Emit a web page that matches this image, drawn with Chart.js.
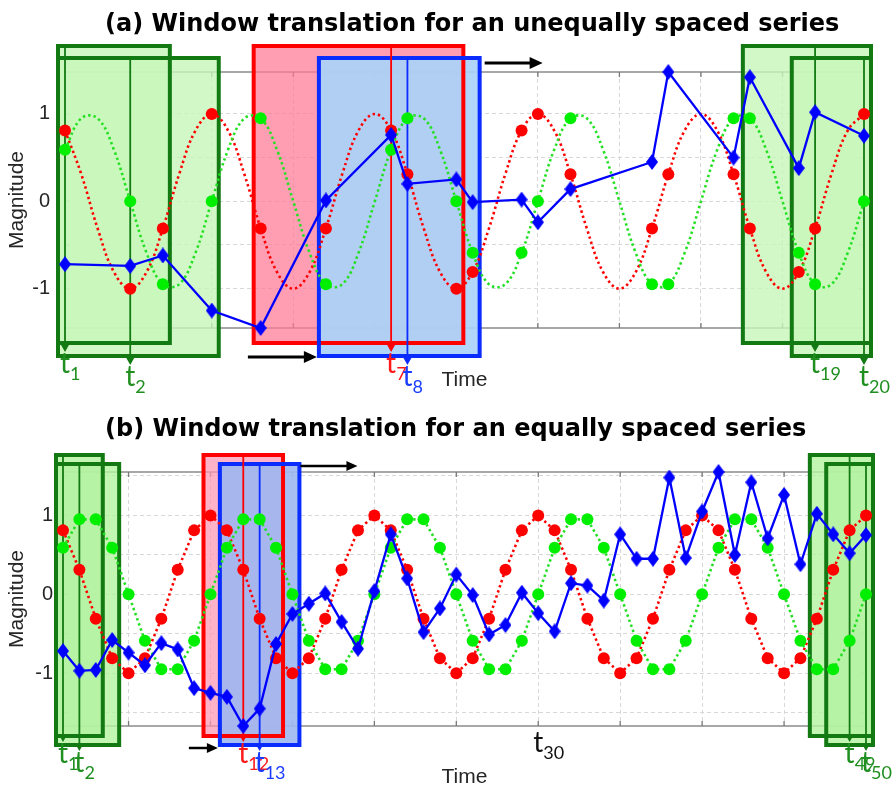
<!DOCTYPE html>
<html>
<head>
<meta charset="utf-8">
<script src="https://cdn.jsdelivr.net/npm/chart.js@4.4.1/dist/chart.umd.min.js"></script>
<style>
  html, body { margin: 0; padding: 0; background: #ffffff; }
  #wrap { position: relative; width: 896px; height: 788px; }
  canvas { position: absolute; left: 0; }
  #cA { top: 0; }
  #cB { top: 400px; }
</style>
</head>
<body>
<div id="wrap">
  <canvas id="cA" width="896" height="400"></canvas>
  <canvas id="cB" width="896" height="388"></canvas>
</div>
<script>
// ---- data -------------------------------------------------------------
// equally spaced sampling instants t1 ... t50
const timesB = [1,2,3,4,5,6,7,8,9,10,11,12,13,14,15,16,17,18,19,20,
                21,22,23,24,25,26,27,28,29,30,31,32,33,34,35,36,37,38,39,40,
                41,42,43,44,45,46,47,48,49,50];
const redB = [0.81,0.31,-0.31,-0.81,-1,-0.81,-0.31,0.31,0.81,1,
              0.81,0.31,-0.31,-0.81,-1,-0.81,-0.31,0.31,0.81,1,
              0.81,0.31,-0.31,-0.81,-1,-0.81,-0.31,0.31,0.81,1,
              0.81,0.31,-0.31,-0.81,-1,-0.81,-0.31,0.31,0.81,1,
              0.81,0.31,-0.31,-0.81,-1,-0.81,-0.31,0.31,0.81,1];
const greenB = [0.59,0.95,0.95,0.59,0,-0.59,-0.95,-0.95,-0.59,0,
                0.59,0.95,0.95,0.59,0,-0.59,-0.95,-0.95,-0.59,0,
                0.59,0.95,0.95,0.59,0,-0.59,-0.95,-0.95,-0.59,0,
                0.59,0.95,0.95,0.59,0,-0.59,-0.95,-0.95,-0.59,0,
                0.59,0.95,0.95,0.59,0,-0.59,-0.95,-0.95,-0.59,0];
const blueB = [-0.72,-0.97,-0.96,-0.58,-0.74,-0.90,-0.62,-0.70,-1.19,-1.25,
               -1.30,-1.67,-1.45,-0.63,-0.25,-0.12,0.01,-0.35,-0.69,0.04,
               0.76,0.20,-0.48,-0.18,0.25,-0.01,-0.51,-0.39,0.02,-0.24,
               -0.47,0.14,0.11,-0.08,0.76,0.45,0.45,1.48,0.46,1.05,
               1.55,0.50,1.42,0.71,1.26,0.38,1.02,0.76,0.52,0.75];
// unequally spaced sampling instants (subset of the time grid)
const timesA = [1,5,7,10,13,17,21,22,25,26,29,30,32,37,38,42,43,46,47,50];

// time-axis grid and magnitude ticks
const xTicks = [5,10,15,20,25,30,35,40,45,50];
const yTicksA = [-1,-0.5,0,0.5,1];
const yTicksB = [-1.5,-1,-0.5,0,0.5,1,1.5];

// sample numbers whose windows are highlighted
const windowsA = [1,2,7,8,19,20];
const windowsB = [1,2,12,13,49,50];
const windowColorsA = ['green','green','red','blue','green','green'];
const windowColorsB = ['green','green','red','blue','green','green'];
const markedSampleB = 30;

// ---- styling ----------------------------------------------------------
const RED = '#ff0000', GREEN = '#00ee00', GREEN_LINE = '#22e022', BLUE = '#0000ff';
const WIN = {
  green: { fill: 'rgba(200,246,185,0.80)', stroke: '#137a13', text: '#1f8f1f' },
  red:   { fill: 'rgba(255,120,150,0.72)', stroke: '#ff0000', text: '#ff1a1a' },
  blue:  { fill: 'rgba(170,210,250,0.92)', stroke: '#0a2cff', text: '#1a3cff' }
};
const WIN_B = {
  green: { fill: 'rgba(180,242,160,0.80)', stroke: '#137a13', text: '#1f8f1f' },
  red:   { fill: 'rgba(255,150,180,0.72)', stroke: '#ff0000', text: '#ff1a1a' },
  blue:  { fill: 'rgba(160,184,242,0.92)', stroke: '#0a2cff', text: '#1a3cff' }
};

function makeDiamond(w, h, color) {
  const c = document.createElement('canvas');
  c.width = w; c.height = h;
  const g = c.getContext('2d');
  g.fillStyle = color;
  g.beginPath();
  g.moveTo(w / 2, 0); g.lineTo(w, h / 2); g.lineTo(w / 2, h); g.lineTo(0, h / 2);
  g.closePath(); g.fill();
  return c;
}
const diamond = makeDiamond(12, 16, BLUE);

function pts(times, values) {
  return times.map(t => ({ x: t, y: values[timesB.indexOf(t)] }));
}

function datasets(times, smooth) {
  return [
    { data: pts(times, blueB), borderColor: BLUE, borderWidth: 2.3, tension: 0,
      pointStyle: diamond, pointRadius: 7, clip: false },
    { data: pts(times, greenB), showLine: false, pointRadius: 6,
      pointBackgroundColor: GREEN, pointBorderWidth: 0, clip: false },
    { data: pts(times, redB), showLine: false, pointRadius: 6,
      pointBackgroundColor: RED, pointBorderWidth: 0, clip: false },
    { data: pts(timesB, greenB), borderColor: GREEN_LINE, borderWidth: 2.6,
      borderDash: [2.4, 3], pointRadius: 0, tension: smooth ? 0.4 : 0, clip: false },
    { data: pts(timesB, redB), borderColor: RED, borderWidth: 2.6,
      borderDash: [2.4, 3], pointRadius: 0, tension: smooth ? 0.4 : 0, clip: false }
  ];
}

// ---- annotation drawing -------------------------------------------------
function arrowRight(ctx, x0, x1, y, lw, hl, hw) {
  ctx.strokeStyle = '#000'; ctx.fillStyle = '#000'; ctx.lineWidth = lw;
  ctx.beginPath(); ctx.moveTo(x0, y); ctx.lineTo(x1 - hl + 1, y); ctx.stroke();
  ctx.beginPath(); ctx.moveTo(x1, y); ctx.lineTo(x1 - hl, y - hw); ctx.lineTo(x1 - hl, y + hw);
  ctx.closePath(); ctx.fill();
}

function subLabel(ctx, xc, baseline, num, color) {
  ctx.save();
  ctx.fillStyle = color;
  ctx.textAlign = 'left'; ctx.textBaseline = 'alphabetic';
  ctx.font = '28px Lato, "Open Sans", sans-serif';
  const tw = ctx.measureText('t').width;
  ctx.fillText('t', xc - tw / 2, baseline);
  ctx.font = '18px Lato, "Open Sans", sans-serif';
  ctx.fillText(String(num), xc + tw / 2, baseline + 7);
  ctx.restore();
}

function overlay(cfg) {
  let geo = [];
  return {
    id: 'overlay',
    beforeDatasetsDraw(chart) {
      const { ctx, chartArea: a, scales: { x, y } } = chart;
      ctx.save();
      // axes box with inward ticks
      ctx.strokeStyle = '#7a7a7a'; ctx.lineWidth = 1.3;
      ctx.strokeRect(a.left, a.top, a.right - a.left, a.bottom - a.top);
      ctx.beginPath();
      xTicks.forEach(v => {
        const px = x.getPixelForValue(v);
        ctx.moveTo(px, a.bottom); ctx.lineTo(px, a.bottom - 5);
        ctx.moveTo(px, a.top); ctx.lineTo(px, a.top + 5);
      });
      cfg.yTicks.forEach(v => {
        const py = y.getPixelForValue(v);
        ctx.moveTo(a.left, py); ctx.lineTo(a.left + 5, py);
        ctx.moveTo(a.right, py); ctx.lineTo(a.right - 5, py);
      });
      ctx.stroke();

      // windows: each one covers its sample and two neighbours on each side
      const n = cfg.times.length;
      geo = cfg.windows.map((s, k) => {
        const lo = cfg.times[Math.max(0, s - 3)], hi = cfg.times[Math.min(n - 1, s + 1)];
        const st = cfg.stagger[k % 2];
        const x0 = x.getPixelForValue(lo) - cfg.pad, x1 = x.getPixelForValue(hi) + cfg.pad;
        const top = a.top + st.top, bottom = a.bottom + st.bottom;
        return { s, xc: x.getPixelForValue(cfg.times[s - 1]), x0, x1, top, bottom,
                 tip: bottom + cfg.tip, c: cfg.palette[cfg.colors[k]] };
      });
      geo.forEach(w => { ctx.fillStyle = w.c.fill; ctx.fillRect(w.x0, w.top, w.x1 - w.x0, w.bottom - w.top); });
      ctx.lineWidth = 4;
      geo.forEach(w => { ctx.strokeStyle = w.c.stroke; ctx.strokeRect(w.x0, w.top, w.x1 - w.x0, w.bottom - w.top); });
      // time markers with arrowheads
      geo.forEach(w => {
        ctx.strokeStyle = w.c.stroke; ctx.fillStyle = w.c.stroke; ctx.lineWidth = 1.8;
        ctx.beginPath(); ctx.moveTo(w.xc, w.top); ctx.lineTo(w.xc, w.tip - 6); ctx.stroke();
        ctx.beginPath(); ctx.moveTo(w.xc, w.tip); ctx.lineTo(w.xc - 4.5, w.tip - 8); ctx.lineTo(w.xc + 4.5, w.tip - 8);
        ctx.closePath(); ctx.fill();
      });
      // translation arrows around the moving window
      const blue = geo[cfg.colors.indexOf('blue')];
      const ar = cfg.arrows;
      arrowRight(ctx, blue.x1 + ar.topGap, blue.x1 + ar.topGap + ar.topLen, blue.top + ar.topDy, ar.lw, ar.hl, ar.hw);
      arrowRight(ctx, blue.x0 - ar.botLen, blue.x0 - 2, blue.bottom + ar.botDy, ar.lw, ar.hl, ar.hw);
      ctx.restore();
    },
    afterDraw(chart) {
      const { ctx, chartArea: a, scales: { x } } = chart;
      ctx.save();
      // title
      ctx.fillStyle = '#000';
      ctx.font = 'bold 24px "DejaVu Sans", sans-serif';
      ctx.textAlign = 'left'; ctx.textBaseline = 'alphabetic';
      ctx.fillText(cfg.title, 105, cfg.titleY);
      // axis titles
      ctx.fillStyle = '#262626';
      ctx.font = '21px "Liberation Sans", Arial, sans-serif';
      ctx.textAlign = 'center'; ctx.textBaseline = 'middle';
      ctx.fillText('Time', (a.left + a.right) / 2, a.bottom + cfg.timeDy);
      ctx.save();
      ctx.translate(17, (a.top + a.bottom) / 2);
      ctx.rotate(-Math.PI / 2);
      ctx.fillText('Magnitude', 0, 0);
      ctx.restore();
      // sample labels below the windows
      geo.forEach(w => subLabel(ctx, w.xc, w.tip + cfg.labelDy, w.s, w.c.text));
      if (cfg.marked) {
        subLabel(ctx, x.getPixelForValue(cfg.marked), a.bottom + 26, cfg.marked, '#111111');
      }
      ctx.restore();
    }
  };
}

function build(id, cfg) {
  const vals = cfg.times.map(t => blueB[timesB.indexOf(t)]);
  const ymin = Math.min(...vals, -1), ymax = Math.max(...vals, 1);
  return new Chart(document.getElementById(id), {
    type: 'line',
    data: { datasets: datasets(cfg.times, cfg.smooth) },
    options: {
      responsive: false,
      animation: false,
      events: [],
      layout: { padding: cfg.padding },
      plugins: { legend: { display: false }, tooltip: { enabled: false }, title: { display: false } },
      scales: {
        x: {
          type: 'linear', min: 1, max: 50,
          afterBuildTicks: s => { s.ticks = xTicks.map(v => ({ value: v })); },
          afterFit: s => { s.height = 0; },
          ticks: { display: false },
          grid: { color: '#d8d8d8', lineWidth: 1, drawTicks: false },
          border: { display: false, dash: [4, 3] }
        },
        y: {
          type: 'linear', min: ymin, max: ymax,
          afterBuildTicks: s => { s.ticks = cfg.yTicks.map(v => ({ value: v })); },
          afterFit: s => { s.width = cfg.yWidth; },
          ticks: {
            padding: cfg.tickPad, color: '#262626',
            font: { family: '"Liberation Sans", Arial, sans-serif', size: 20 },
            callback: v => Number.isInteger(v) ? String(v) : ''
          },
          grid: { color: '#d8d8d8', lineWidth: 1, drawTicks: false },
          border: { display: false, dash: [4, 3] }
        }
      }
    },
    plugins: [overlay(cfg)]
  });
}

build('cA', {
  times: timesA, smooth: true, yTicks: yTicksA,
  windows: windowsA, colors: windowColorsA, palette: WIN,
  padding: { left: 0, right: 32, top: 72, bottom: 72 }, yWidth: 65, tickPad: 15,
  stagger: [{ top: -26, bottom: 15 }, { top: -14, bottom: 28 }], pad: 7, tip: 9, labelDy: 21,
  arrows: { topGap: 5, topLen: 58, topDy: 5, botLen: 71, botDy: 1, lw: 3, hl: 13, hw: 6 },
  title: '(a) Window translation for an unequally spaced series', titleY: 31,
  timeDy: 52, marked: null
});

build('cB', {
  times: timesB, smooth: false, yTicks: yTicksB,
  windows: windowsB, colors: windowColorsB, palette: WIN_B,
  padding: { left: 0, right: 30, top: 72, bottom: 62 }, yWidth: 63, tickPad: 10,
  stagger: [{ top: -17, bottom: 10 }, { top: -8, bottom: 19 }], pad: 7, tip: 6, labelDy: 21,
  arrows: { topGap: 1, topLen: 57, topDy: 2, botLen: 31, botDy: 3, lw: 2.5, hl: 11, hw: 5 },
  title: '(b) Window translation for an equally spaced series', titleY: 36,
  timeDy: 51, marked: markedSampleB
});
</script>
</body>
</html>
